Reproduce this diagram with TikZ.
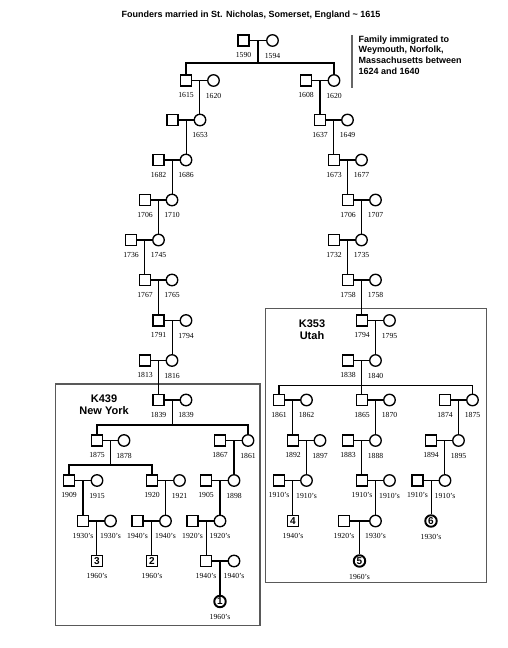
\documentclass[tikz,border=0pt]{standalone}
\usepackage{fontspec}
\setmainfont{Liberation Serif}
\newfontfamily\hvfont{Liberation Sans}
\usepackage{tikz}
\usetikzlibrary{calc}

\newcommand{\yrfont}{\fontsize{7.7}{8}\selectfont}

\begin{document}
\begin{tikzpicture}[x=1pt, y=-1pt, line width=1.35pt,
    male/.style={draw, rectangle, minimum size=11pt, inner sep=0pt},
    female/.style={draw, circle, minimum size=11.5pt, inner sep=0pt},
    proband/.style={line width=1.9pt, font=\hvfont\bfseries\fontsize{10}{10}\selectfont},
    every label/.style={font=\yrfont, inner sep=0pt},
    label distance=5.5pt,
    famname/.style={font=\hvfont\bfseries\fontsize{11}{12}\selectfont, align=center},
    region/.style={draw=black!65, line width=1.2pt}]
    \useasboundingbox (0,0) rectangle (508,648);

    % title and note
    \node[font=\hvfont\bfseries\fontsize{9}{10}\selectfont] (title) at (251,15)
      {Founders married in St. Nicholas, Somerset, England \textasciitilde{} 1615};
    \draw[black!60, line width=1.2pt] (352,35) -- (352,88);
    \node[anchor=west, align=left, inner sep=0pt, font=\hvfont\bfseries\fontsize{9}{10.7}\selectfont]
      (note) at (358,55) {Family immigrated to\\Weymouth, Norfolk,\\Massachusetts between\\1624 and 1640};

    % the two family regions
    \draw[region] (55.7,384) rectangle (260,625.7);
    \node[famname] (ny) at (104,405) {K439\\New York};
    \draw[region] (265.7,308.3) rectangle (486.7,582.3);
    \node[famname] (ut) at (312,329.5) {K353\\Utah};

    % founders
    \node[male, label=below:1590] (F1) at (243.5,40.5) {};
    \node[female, label=below:1594] (F2) at (272.5,40.5) {};

    % left line
    \node[male, label=below:1615] (L2m) at (186,80.5) {};
    \node[female, label=below:1620] (L2w) at (213.5,80.5) {};
    \node[male] (L3m) at (172.5,120) {};
    \node[female, label=below:1653] (L3w) at (200,120) {};
    \node[male, label=below:1682] (L4m) at (158.5,160) {};
    \node[female, label=below:1686] (L4w) at (186,160) {};
    \node[male, label=below:1706] (L5m) at (145,200) {};
    \node[female, label=below:1710] (L5w) at (172,200) {};
    \node[male, label=below:1736] (L6m) at (131,240) {};
    \node[female, label=below:1745] (L6w) at (158.5,240) {};
    \node[male, label=below:1767] (L7m) at (145,280) {};
    \node[female, label=below:1765] (L7w) at (172,280) {};
    \node[male, label=below:1791] (L8m) at (158.5,320.5) {};
    \node[female, label=below:1794] (L8w) at (186,320.5) {};
    \node[male, label=below:1813] (L9m) at (145,360.5) {};
    \node[female, label=below:1816] (L9w) at (172,360.5) {};
    \node[male, label=below:1839] (L10m) at (158.5,400) {};
    \node[female, label=below:1839] (L10w) at (186,400) {};

    % right line
    \node[male, label=below:1608] (R2m) at (306,80.5) {};
    \node[female, label=below:1620] (R2w) at (334,80.5) {};
    \node[male, label=below:1637] (R3m) at (320,120) {};
    \node[female, label=below:1649] (R3w) at (347.5,120) {};
    \node[male, label=below:1673] (R4m) at (334,160) {};
    \node[female, label=below:1677] (R4w) at (361.5,160) {};
    \node[male, label=below:1706] (R5m) at (348,200) {};
    \node[female, label=below:1707] (R5w) at (375.5,200) {};
    \node[male, label=below:1732] (R6m) at (334,240) {};
    \node[female, label=below:1735] (R6w) at (361.5,240) {};
    \node[male, label=below:1758] (R7m) at (348,280) {};
    \node[female, label=below:1758] (R7w) at (375.5,280) {};
    \node[male, label=below:1794] (R8m) at (362,320.5) {};
    \node[female, label=below:1795] (R8w) at (389.5,320.5) {};
    \node[male, label=below:1838] (R9m) at (348,360.5) {};
    \node[female, label=below:1840] (R9w) at (375.5,360.5) {};

    % New York branch
    \node[male, label=below:1875] (Aam) at (97,440.5) {};
    \node[female, label=below:1878] (Aaw) at (124,440.5) {};
    \node[male, label=below:1867] (Abm) at (220,440.5) {};
    \node[female, label=below:1861] (Abw) at (248,440.5) {};
    \node[male, label=below:1909] (Bam) at (69,480.5) {};
    \node[female, label=below:1915] (Baw) at (97,480.5) {};
    \node[male, label=below:1920] (Bbm) at (152,480.5) {};
    \node[female, label=below:1921] (Bbw) at (179.5,480.5) {};
    \node[male, label=below:1905] (Bcm) at (206,480.5) {};
    \node[female, label=below:1898] (Bcw) at (234,480.5) {};
    \node[male, label=below:1930's] (Cam) at (83,521) {};
    \node[female, label=below:1930's] (Caw) at (110.5,521) {};
    \node[male, label=below:1940's] (Cbm) at (137.5,521) {};
    \node[female, label=below:1940's] (Cbw) at (165.5,521) {};
    \node[male, label=below:1920's] (Ccm) at (192.5,521) {};
    \node[female, label=below:1920's] (Ccw) at (220,521) {};
    \node[male, proband, label=below:1960's] (P3) at (97,561) {3};
    \node[male, proband, label=below:1960's] (P2) at (152,561) {2};
    \node[male, label=below:1940's] (Dcm) at (206,561) {};
    \node[female, label=below:1940's] (Dcw) at (234,561) {};
    \node[female, proband, label=below:1960's] (P1) at (220,601.5) {1};

    % Utah branch
    \node[male, label=below:1861] (Uam) at (279,400) {};
    \node[female, label=below:1862] (Uaw) at (306.5,400) {};
    \node[male, label=below:1865] (Ubm) at (362,400) {};
    \node[female, label=below:1870] (Ubw) at (389.5,400) {};
    \node[male, label=below:1874] (Ucm) at (445,400) {};
    \node[female, label=below:1875] (Ucw) at (472.5,400) {};
    \node[male, label=below:1892] (Vam) at (293,440.5) {};
    \node[female, label=below:1897] (Vaw) at (320,440.5) {};
    \node[male, label=below:1883] (Vbm) at (348,440.5) {};
    \node[female, label=below:1888] (Vbw) at (375.5,440.5) {};
    \node[male, label=below:1894] (Vcm) at (431,440.5) {};
    \node[female, label=below:1895] (Vcw) at (458.5,440.5) {};
    \node[male, label=below:1910's] (Wam) at (279,480.5) {};
    \node[female, label=below:1910's] (Waw) at (306.5,480.5) {};
    \node[male, label=below:1910's] (Wbm) at (362,480.5) {};
    \node[female, label=below:1910's] (Wbw) at (389.5,480.5) {};
    \node[male, label=below:1910's] (Wcm) at (417.5,480.5) {};
    \node[female, label=below:1910's] (Wcw) at (445,480.5) {};
    \node[male, proband, label=below:1940's] (P4) at (293,521) {4};
    \node[male, label=below:1920's] (Xbm) at (344,521) {};
    \node[female, label=below:1930's] (Xbw) at (375.5,521) {};
    \node[female, proband, label=below:1930's] (P6) at (431,521) {6};
    \node[female, proband, label=below:1960's] (P5) at (359.5,561) {5};

    % marriage lines
    \draw (F1) -- (F2);
    \draw (L2m) -- (L2w);  \draw (R2m) -- (R2w);
    \draw (L3m) -- (L3w);  \draw (R3m) -- (R3w);
    \draw (L4m) -- (L4w);  \draw (R4m) -- (R4w);
    \draw (L5m) -- (L5w);  \draw (R5m) -- (R5w);
    \draw (L6m) -- (L6w);  \draw (R6m) -- (R6w);
    \draw (L7m) -- (L7w);  \draw (R7m) -- (R7w);
    \draw (L8m) -- (L8w);  \draw (R8m) -- (R8w);
    \draw (L9m) -- (L9w);  \draw (R9m) -- (R9w);
    \draw (L10m) -- (L10w);
    \draw (Aam) -- (Aaw);  \draw (Abm) -- (Abw);
    \draw (Bam) -- (Baw);  \draw (Bbm) -- (Bbw);  \draw (Bcm) -- (Bcw);
    \draw (Cam) -- (Caw);  \draw (Cbm) -- (Cbw);  \draw (Ccm) -- (Ccw);
    \draw (Dcm) -- (Dcw);
    \draw (Uam) -- (Uaw);  \draw (Ubm) -- (Ubw);  \draw (Ucm) -- (Ucw);
    \draw (Vam) -- (Vaw);  \draw (Vbm) -- (Vbw);  \draw (Vcm) -- (Vcw);
    \draw (Wam) -- (Waw);  \draw (Wbm) -- (Wbw);  \draw (Wcm) -- (Wcw);
    \draw (Xbm) -- (Xbw);

    % couple midpoints
    \coordinate (F) at ($(F1)!0.5!(F2)$);
    \foreach \c in {L2,L3,L4,L5,L6,L7,L8,L9,L10,R2,R3,R4,R5,R6,R7,R8,R9,
                    Aa,Ab,Ba,Bb,Bc,Ca,Cb,Cc,Dc,Ua,Ub,Uc,Va,Vb,Vc,Wa,Wb,Wc,Xb}
      \coordinate (\c) at ($(\c m)!0.5!(\c w)$);

    % sibships
    \coordinate (S1) at ($(F)+(0,22.5)$);
    \draw (F) -- (S1);
    \draw (L2m.north) |- (S1) -| (R2w.north);
    \coordinate (S2) at ($(L10)+(0,25)$);
    \draw (L10) -- (S2);
    \draw (Aam.north) |- (S2) -| (Abw.north);
    \coordinate (S3) at ($(R9)+(0,25.2)$);
    \draw (R9) -- (R9 |- Ubm.north);
    \draw (Uam.north) |- (S3) -| (Ucw.north);
    \coordinate (S4) at ($(Aa)+(0,24.5)$);
    \draw (Aa) -- (S4);
    \draw (Bam.north) |- (S4) -| (Bbm.north);

    % single descents
    \draw (L2) -- (L2 |- L3w.north);
    \draw (L3) -- (L3 |- L4w.north);
    \draw (L4) -- (L4 |- L5w.north);
    \draw (L5) -- (L5 |- L6w.north);
    \draw (L6) -- (L6 |- L7m.north);
    \draw (L7) -- (L7 |- L8m.north);
    \draw (L8) -- (L8 |- L9w.north);
    \draw (L9) -- (L9 |- L10m.north);
    \draw (R2) -- (R2 |- R3m.north);
    \draw (R3) -- (R3 |- R4m.north);
    \draw (R4) -- (R4 |- R5m.north);
    \draw (R5) -- (R5 |- R6w.north);
    \draw (R6) -- (R6 |- R7m.north);
    \draw (R7) -- (R7 |- R8m.north);
    \draw (R8) -- (R8 |- R9w.north);
    \draw (Ab) -- (Ab |- Bcw.north);
    \draw (Ba) -- (Ba |- Cam.north);
    \draw (Bb) -- (Bb |- Cbw.north);
    \draw (Bc) -- (Bc |- Ccw.north);
    \draw (Ca) -- (Ca |- P3.north);
    \draw (Cb) -- (Cb |- P2.north);
    \draw (Cc) -- (Cc |- Dcm.north);
    \draw (Dc) -- (Dc |- P1.north);
    \draw (Ua) -- (Ua |- Vam.north);
    \draw (Ub) -- (Ub |- Vbw.north);
    \draw (Uc) -- (Uc |- Vcw.north);
    \draw (Va) -- (Va |- Waw.north);
    \draw (Vb) -- (Vb |- Wbm.north);
    \draw (Vc) -- (Vc |- Wcw.north);
    \draw (Wa) -- (Wa |- P4.north);
    \draw (Wb) -- (Wb |- Xbw.north);
    \draw (Wc) -- (Wc |- P6.north);
    \draw (Xb) -- (Xb |- P5.north);
  \end{tikzpicture}
\end{document}
